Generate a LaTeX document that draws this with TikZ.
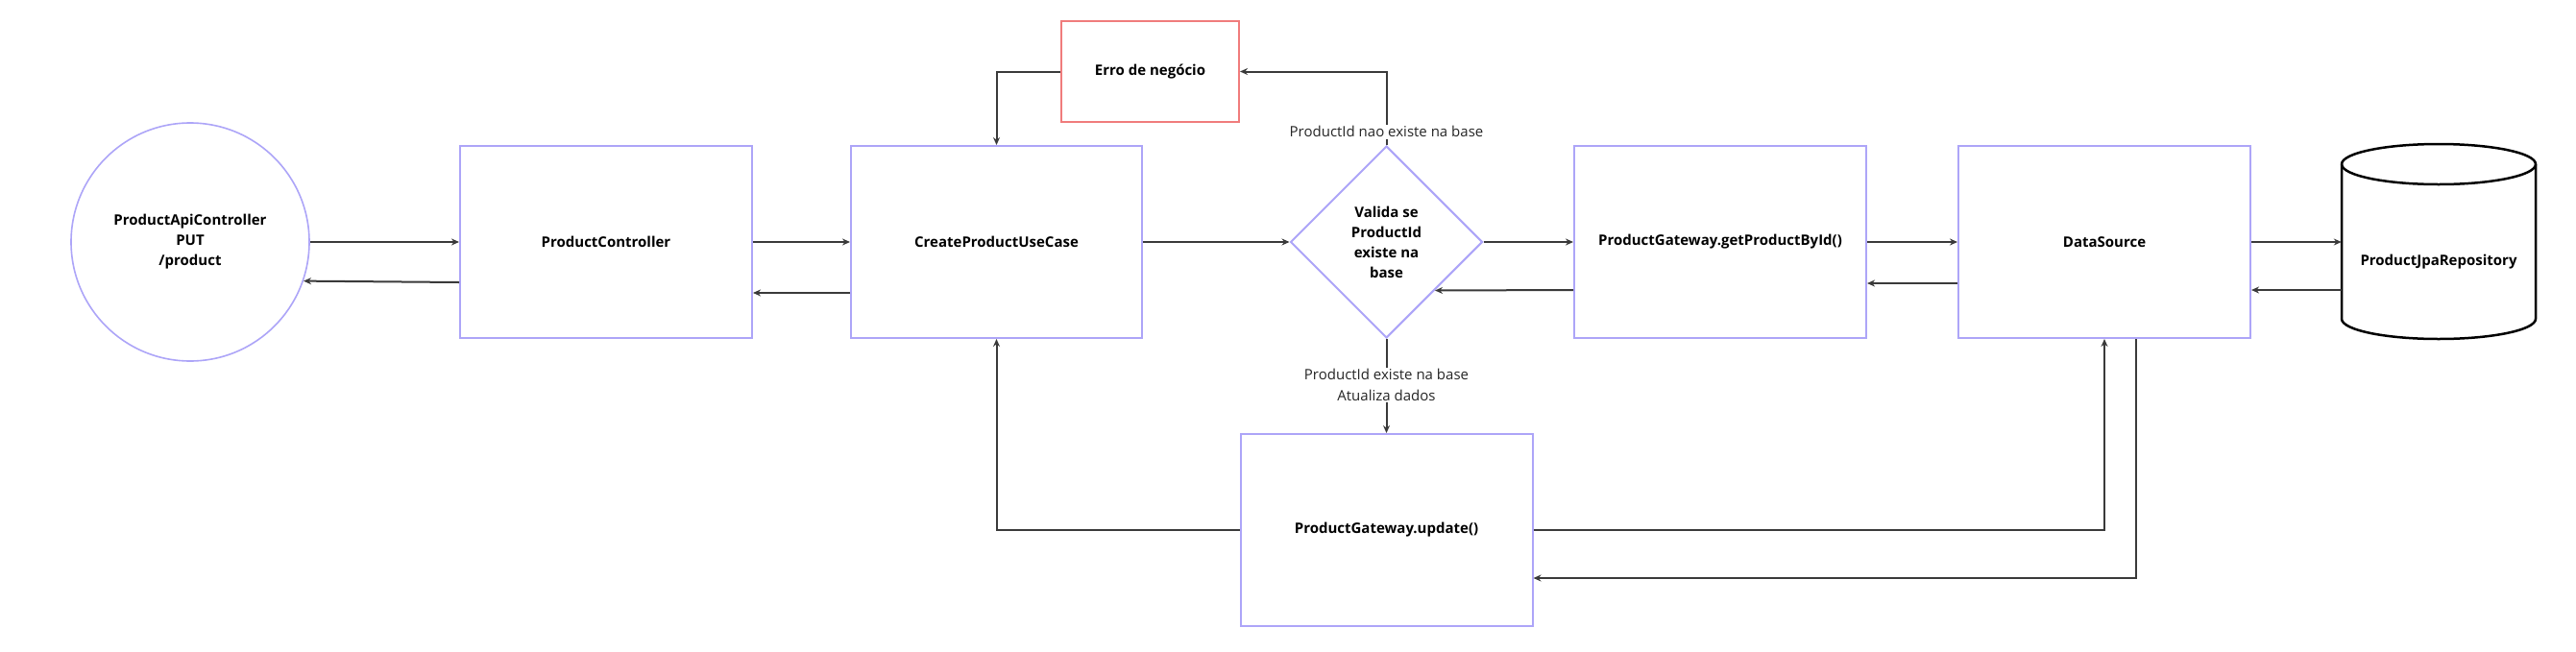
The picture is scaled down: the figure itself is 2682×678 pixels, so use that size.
\documentclass[tikz,border=0pt]{standalone}
\usepackage{fontspec}
\setmainfont{Open Sans}
\usetikzlibrary{arrows.meta,shapes.geometric,calc}
\definecolor{boxpurple}{HTML}{ADA5F8}
\definecolor{errred}{HTML}{F07C7C}
\definecolor{linegray}{HTML}{3A3A3A}
\tikzset{
  box/.style={draw=boxpurple, line width=2pt, fill=white, rectangle, minimum width=304pt, minimum height=200pt, inner sep=0pt, font=\fontsize{15}{21}\selectfont\bfseries, align=center},
  errbox/.style={draw=errred, line width=2pt, fill=white, rectangle, minimum width=185pt, minimum height=105pt, inner sep=0pt, font=\fontsize{15}{21}\selectfont\bfseries},
  endpoint/.style={draw=boxpurple, line width=1.6pt, fill=white, circle, minimum size=248pt, inner sep=0pt, font=\fontsize{15}{21}\selectfont\bfseries, align=center},
  decision/.style={draw=boxpurple, line width=2pt, fill=white, diamond, minimum width=200pt, minimum height=200pt, inner sep=0pt, font=\fontsize{15}{21}\selectfont\bfseries, align=center},
  conn/.style={draw=linegray, line width=2pt, -{Stealth[length=8pt,width=7pt]}},
  lbl/.style={fill=white, inner sep=1.5pt, font=\fontsize{15}{22}\selectfont, align=center, text=black!85}
}
\begin{document}
\begin{tikzpicture}[x=1pt,y=-1pt]
\useasboundingbox (0,0) rectangle (2682,678);
\fill[white] (0,0) rectangle (2682,678);

\node[endpoint] (api) at (198,252) {ProductApiController\\PUT\\/product};
\node[box] (pc) at (631,252) {ProductController};
\node[box, minimum width=303pt] (cuc) at (1037.5,252) {CreateProductUseCase};
\node[errbox] (erro) at (1197.5,74.5) {Erro de negócio};
\node[decision] (dia) at (1443.5,252) {Valida se\\ProductId\\existe na\\base};
\node[box] (gw) at (1791,252) {ProductGateway.getProductById()};
\node[box] (ds) at (2191,252) {DataSource};
\node[box] (upd) at (1443.5,552) {ProductGateway.update()};

% cylinder
\draw[black, line width=2.5pt, fill=white]
  (2438,171) -- (2438,332) arc[start angle=180, end angle=360, x radius=101, y radius=-21]
  -- (2640,171) arc[start angle=0, end angle=180, x radius=101, y radius=-21] -- cycle;
\draw[black, line width=2.5pt] (2438,171) arc[start angle=180, end angle=360, x radius=101, y radius=-21];
\node[draw=none, minimum width=202pt, minimum height=203pt, inner sep=0pt] (repo) at (2539,251.5) {};
\node[font=\fontsize{15}{21}\selectfont\bfseries] (repotext) at (2539,273) {ProductJpaRepository};

% horizontal flow
\draw[conn] (api.east) -- (pc.west);
\draw[conn] ($(pc.west)+(0,42)$) -- (api.-19.8);
\draw[conn] (pc.east) -- (cuc.west);
\draw[conn] ($(cuc.west)+(0,53)$) -- ($(pc.east)+(0,53)$);
\draw[conn] (cuc.east) -- (dia.west);
\draw[conn] (dia.east) -- (gw.west);
\draw[conn] ($(gw.west)+(0,50)$) -- (dia.-45);
\draw[conn] (gw.east) -- (ds.west);
\draw[conn] ($(ds.west)+(0,43)$) -- ($(gw.east)+(0,43)$);
\draw[conn] (ds.east) -- (repo.west |- ds.east);
\draw[conn] ($(repo.west)+(0,50.5)$) -- ($(ds.east)+(0,50)$);

% error branch
\draw[conn] (dia.north) |- node[lbl, pos=0.09] {ProductId nao existe na base} (erro.east);
\draw[conn] (erro.west) -| (cuc.north);

% update branch
\draw[conn] (dia.south) -- node[lbl, pos=0.49] {ProductId existe na base\\Atualiza dados} (upd.north);
\draw[conn] (upd.west) -| (cuc.south);
\draw[conn] (upd.east) -| (ds.south);
\draw[conn] ($(ds.south)+(33,0)$) |- ($(upd.east)+(0,50)$);
\end{tikzpicture}
\end{document}
